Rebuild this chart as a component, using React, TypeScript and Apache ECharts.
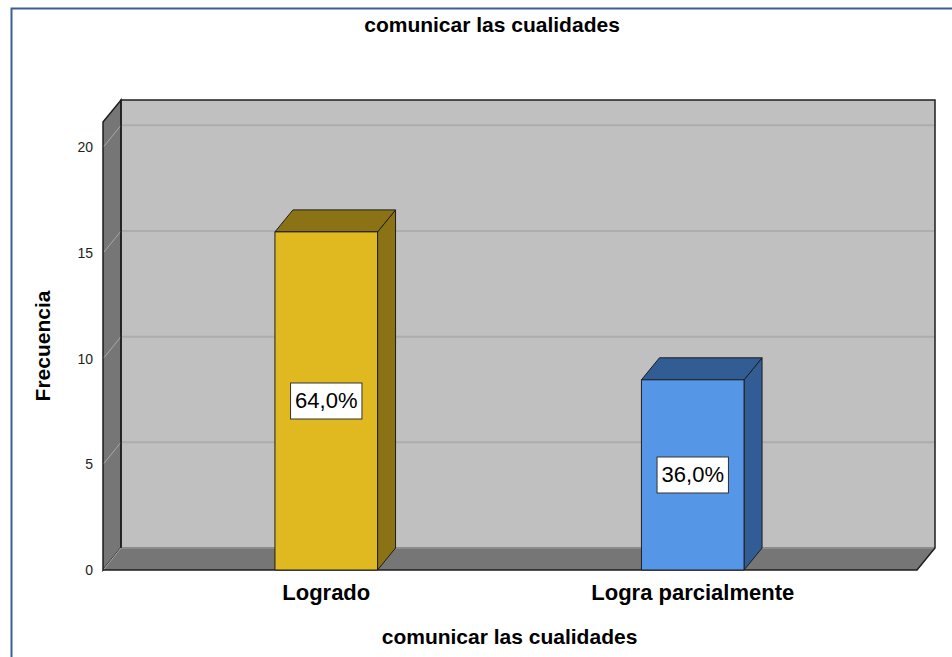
import React, { useEffect, useRef } from "react";
import * as echarts from "echarts";

const categories = ["Logrado", "Logra parcialmente"];
const frequencies = [16, 9];
const percentLabels = ["64,0%", "36,0%"];
const chartTitle = "comunicar las cualidades";
const xAxisTitle = "comunicar las cualidades";
const yAxisTitle = "Frecuencia";
const yMin = 0;
const yMax = 21.2;
const yInterval = 5;
const gridValues = [0, 5, 10, 15, 20];

const FONT = '"Liberation Sans", Arial, Helvetica, sans-serif';
const frontColors = ["#e0b921", "#5596e6"];
const sideColors = ["#8b7315", "#325d94"];
const DX = 18;
const DY = -22;
const EDGE = "#1e1e1e";

export default function App() {
  const ref = useRef<HTMLDivElement>(null);

  useEffect(() => {
    if (!ref.current) return;
    const chart = echarts.init(ref.current, null, { renderer: "svg" });

    const boxRender = (params: any, api: any) => {
      const cs = params.coordSys;
      const left = cs.x - 40;
      const right = cs.x + cs.width + 41;
      const y0 = api.coord([0, yMin])[1];
      const yTop = api.coord([0, yMax])[1];
      const children: any[] = [];
      children.push({
        type: "polygon",
        shape: {
          points: [
            [left + DX, yTop + DY],
            [right + DX, yTop + DY],
            [right + DX, y0 + DY],
            [left + DX, y0 + DY],
          ],
        },
        style: { fill: "#c0c0c0" },
      });
      gridValues.forEach((v) => {
        if (v === 0) return;
        const y = api.coord([0, v])[1];
        children.push({
          type: "line",
          shape: { x1: left + DX, y1: y + DY, x2: right + DX, y2: y + DY },
          style: { stroke: "#adadad", lineWidth: 2 },
        });
      });
      children.push({
        type: "polygon",
        shape: {
          points: [
            [left, yTop],
            [left + DX, yTop + DY],
            [left + DX, y0 + DY],
            [left, y0],
          ],
        },
        style: { fill: "#767676", stroke: EDGE, lineWidth: 1.5 },
      });
      children.push({
        type: "polygon",
        shape: {
          points: [
            [left, y0],
            [left + DX, y0 + DY],
            [right + DX, y0 + DY],
            [right, y0],
          ],
        },
        style: { fill: "#767676" },
      });
      children.push({
        type: "line",
        shape: { x1: left + DX, y1: y0 + DY, x2: right + DX, y2: y0 + DY },
        style: { stroke: "#8c8c8c", lineWidth: 2 },
      });
      gridValues.forEach((v) => {
        const y = api.coord([0, v])[1];
        children.push({
          type: "line",
          shape: { x1: left + 1, y1: y - 1, x2: left + DX, y2: y + DY },
          style: { stroke: "#a8a8a8", lineWidth: 1 },
        });
      });
      children.push({
        type: "polyline",
        shape: {
          points: [
            [left + DX, y0 + DY],
            [left + DX, yTop + DY],
            [right + DX, yTop + DY],
            [right + DX, y0 + DY],
            [right, y0],
            [left, y0],
          ],
        },
        style: { fill: "none", stroke: EDGE, lineWidth: 1.5 },
      });
      return { type: "group", children };
    };

    const barRender = (params: any, api: any) => {
      const i = params.dataIndex;
      const top = api.coord([api.value(0), api.value(1)]);
      const base = api.coord([api.value(0), yMin]);
      const band = api.size([1, 0])[0];
      const w = band * 0.28;
      const cx = top[0];
      const xl = cx - w / 2;
      const xr = cx + w / 2;
      const yv = top[1];
      const yb = base[1];
      const edge = { stroke: EDGE, lineWidth: 1 };
      return {
        type: "group",
        children: [
          {
            type: "polygon",
            shape: {
              points: [
                [xr, yv],
                [xr + DX, yv + DY],
                [xr + DX, yb + DY],
                [xr, yb],
              ],
            },
            style: { fill: sideColors[i], ...edge },
          },
          {
            type: "polygon",
            shape: {
              points: [
                [xl, yv],
                [xl + DX, yv + DY],
                [xr + DX, yv + DY],
                [xr, yv],
              ],
            },
            style: { fill: sideColors[i], ...edge },
          },
          {
            type: "rect",
            shape: { x: xl, y: yv, width: w, height: yb - yv },
            style: { fill: frontColors[i], ...edge },
          },
          {
            type: "text",
            x: cx,
            y: (yv + yb) / 2,
            style: {
              text: percentLabels[i],
              align: "center",
              verticalAlign: "middle",
              font: `22px ${FONT}`,
              fill: "#000",
              backgroundColor: "#ffffff",
              borderColor: "#333333",
              borderWidth: 1,
              padding: [7, 4, 6, 4],
            },
          },
        ],
      };
    };

    chart.setOption({
      animation: false,
      backgroundColor: "#ffffff",
      title: {
        text: chartTitle,
        left: 487,
        top: 9,
        textAlign: "center",
        textStyle: { fontFamily: FONT, fontSize: 21, fontWeight: "bold", color: "#000" },
      },
      grid: { left: 143, right: 76, top: 122, bottom: 87 },
      xAxis: {
        type: "category",
        data: categories,
        axisLine: { show: false },
        axisTick: { show: false },
        splitLine: { show: false },
        axisLabel: {
          margin: 11,
          fontFamily: FONT,
          fontSize: 22,
          fontWeight: "bold",
          color: "#000",
        },
        name: xAxisTitle,
        nameLocation: "middle",
        nameGap: 56,
        nameTextStyle: { fontFamily: FONT, fontSize: 21, fontWeight: "bold", color: "#000" },
      },
      yAxis: {
        type: "value",
        min: yMin,
        max: yMax,
        interval: yInterval,
        axisLine: { show: false },
        axisTick: { show: false },
        splitLine: { show: false },
        axisLabel: {
          margin: 50,
          fontFamily: FONT,
          fontSize: 14,
          color: "#222",
          showMaxLabel: false,
        },
        name: yAxisTitle,
        nameLocation: "middle",
        nameRotate: 90,
        nameGap: 90,
        nameTextStyle: { fontFamily: FONT, fontSize: 21, fontWeight: "bold", color: "#000" },
      },
      graphic: [
        {
          type: "rect",
          left: 9,
          top: 6,
          shape: { width: 1000, height: 700 },
          style: { fill: "none", stroke: "#3d5f94", lineWidth: 2 },
          silent: true,
        },
      ],
      series: [
        {
          type: "custom",
          renderItem: boxRender,
          data: [[0, 0]],
          clip: false,
          silent: true,
          z: 1,
        },
        {
          type: "custom",
          renderItem: barRender,
          data: frequencies.map((v, i) => [i, v]),
          clip: false,
          z: 2,
        },
      ],
    });

    return () => chart.dispose();
  }, []);

  return (
    <div
      ref={ref}
      style={{ position: "fixed", left: 0, top: 0, width: 952, height: 657 }}
    />
  );
}
